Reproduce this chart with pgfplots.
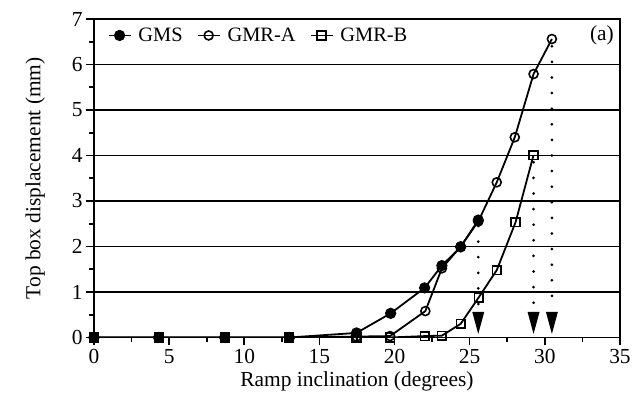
\documentclass[border=0pt]{standalone}
\usepackage{fontspec}
\setmainfont{Liberation Serif}
\usepackage{pgfplots}
\pgfplotsset{compat=1.18}
\pgfdeclareplotmark{darrow}{%
  \pgfpathmoveto{\pgfpoint{-6bp}{11bp}}%
  \pgfpathlineto{\pgfpoint{6bp}{11bp}}%
  \pgfpathlineto{\pgfpoint{0bp}{-11bp}}%
  \pgfpathclose
  \pgfusepathqfill}
\begin{document}
\begin{tikzpicture}
\begin{axis}[
  scale only axis, width=526bp, height=318.5bp,
  xmin=0, xmax=35, ymin=0, ymax=7,
  xtick={0,5,...,35}, ytick={0,1,...,7},
  minor x tick num=1, minor y tick num=1,
  tick align=outside, tickpos=left,
  major tick length=8bp, minor tick length=4.5bp,
  every tick/.style={black, line width=1.6bp},
  axis line style={line width=1.8bp},
  ymajorgrids, grid style={black, line width=1.8bp},
  font=\fontsize{21.5}{25}\selectfont,
  ticklabel style={font=\fontsize{21.5}{25}\selectfont},
  /pgf/number format/assume math mode=true,
  xlabel={Ramp inclination (degrees)},
  ylabel={Top box displacement (mm)},
  xlabel style={yshift=-1bp},
  ylabel style={yshift=20bp},
  legend columns=3,
  legend style={draw=none, fill=none, at={(rel axis cs:0.02,0.985)}, anchor=north west,
    font=\fontsize{20.5}{24}\selectfont,
    /tikz/every odd column/.append style={column sep=5bp},
    /tikz/every even column/.append style={column sep=12bp}},
  legend image code/.code={%
    \draw[mark repeat=2,mark phase=2,#1] plot coordinates {(0bp,0bp) (11bp,0bp) (22bp,0bp)};},
  legend image post style={line width=1.8bp},
]
\addplot[black, line width=1.8bp, mark=*, mark size=4.7bp] coordinates {
 (0,0) (4.3,0) (8.7,0) (13,0) (17.47,0.1) (19.74,0.53) (22.0,1.09) (23.15,1.58) (24.4,1.99) (25.57,2.58)};
\addlegendentry{GMS}
\addplot[black, line width=1.8bp, mark=o, mark size=4.5bp, mark options={fill=none, line width=1.6bp}] coordinates {
 (0,0) (4.3,0) (8.7,0) (13,0) (17.47,0.02) (19.7,0.03) (22.05,0.58) (23.15,1.52) (24.4,2.0) (25.57,2.55) (26.8,3.41) (28.0,4.40) (29.25,5.79) (30.47,6.56)};
\addlegendentry{GMR-A}
\addplot[black, line width=1.8bp, mark=square, mark size=4.3bp, mark options={fill=none, line width=1.6bp}] coordinates {
 (0,0) (4.3,0) (8.7,0) (13,0) (17.47,0) (19.7,0) (22.0,0.03) (23.15,0.04) (24.4,0.3) (25.6,0.88) (26.8,1.48) (28.05,2.53) (29.25,4.01)};
\addlegendentry{GMR-B}
% dotted drop lines
\addplot[forget plot, black, line width=3bp, line cap=round, dash pattern=on 0pt off 15.6bp] coordinates {(25.57,2.45) (25.57,0.62)};
\addplot[forget plot, black, line width=3bp, line cap=round, dash pattern=on 0pt off 15.6bp] coordinates {(29.25,3.85) (29.25,0.62)};
\addplot[forget plot, black, line width=3bp, line cap=round, dash pattern=on 0pt off 15.6bp] coordinates {(30.47,6.4) (30.47,0.62)};
% arrows
\addplot[forget plot, only marks, mark=darrow, black] coordinates {(25.57,0.32) (29.25,0.32) (30.47,0.32)};
\node[anchor=north east, font=\fontsize{21.5}{25}\selectfont] at (rel axis cs:0.995,0.99) {(a)};
\end{axis}
\path (current axis.south west) ++(-94bp,-69.5bp) (current axis.north east) ++(14bp,19bp);
\end{tikzpicture}
\end{document}
